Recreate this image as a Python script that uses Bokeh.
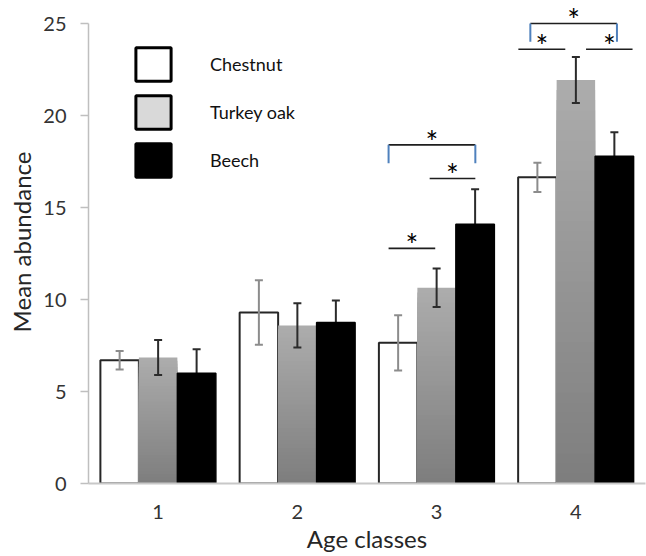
from bokeh.plotting import figure
from bokeh.models import (FactorRange, Range1d, ColumnDataSource, Legend, LegendItem,
                          FixedTicker)
from bokeh.transform import dodge
from bokeh.core.properties import value
from bokeh.embed import file_html
from bokeh.resources import INLINE

# ---------------- data ----------------
age_classes = ["1", "2", "3", "4"]
series_names = ["Chestnut", "Turkey oak", "Beech"]

chestnut_mean = [6.7, 9.3, 7.65, 16.65]
chestnut_err = [0.5, 1.75, 1.5, 0.8]
turkey_mean = [6.85, 8.6, 10.65, 21.95]
turkey_err = [0.95, 1.2, 1.05, 1.25]
beech_mean = [6.0, 8.75, 14.1, 17.8]
beech_err = [1.3, 1.2, 1.9, 1.3]

y_ticks = [0, 5, 10, 15, 20, 25]

# significance brackets: age class and label
sig_age = ["3", "3", "3", "4", "4", "4"]
sig_label = ["*", "*", "*", "*", "*", "*"]

# ---------------- layout / style ----------------
FONT = "Lato"
W_BAR = 0.2764
OFFS = [-W_BAR, 0.0, W_BAR]
sig_x0 = [-0.345, -0.05, -0.345, -0.327, -0.413, 0.073]
sig_x1 = [0.278, 0.278, -0.01, 0.295, -0.076, 0.407]
sig_level = [18.42, 16.59, 12.79, 25.02, 23.62, 23.62]
sig_ticks = [True, False, False, True, False, False]
TICK_LEN = 1.0

WIDTH, HEIGHT = 646, 556
FRAME_H = 483
p = figure(width=WIDTH, height=HEIGHT,
           x_range=FactorRange(factors=age_classes, range_padding=0, factor_padding=0),
           y_range=Range1d(0, 26.27),
           output_backend="svg", toolbar_location=None,
           min_border_left=88, min_border_right=1, min_border_top=0,
           min_border_bottom=HEIGHT - FRAME_H)
p.outline_line_color = None
p.xgrid.visible = False
p.ygrid.visible = False
p.background_fill_color = "white"
p.border_fill_color = "white"

def src(mean, err):
    return ColumnDataSource(dict(
        age=age_classes, mean=mean,
        lo=[m - e for m, e in zip(mean, err)],
        hi=[m + e for m, e in zip(mean, err)]))

s_ch = src(chestnut_mean, chestnut_err)
s_tk = src(turkey_mean, turkey_err)
s_be = src(beech_mean, beech_err)

def error_bars(s, off, col):
    xx = dodge("age", off, range=p.x_range)
    p.segment(x0=xx, y0="lo", x1=xx, y1="hi", source=s, line_color=col, line_width=2)
    p.scatter(x=xx, y="hi", marker="dash", size=8, line_width=2, line_color=col, source=s)
    p.scatter(x=xx, y="lo", marker="dash", size=8, line_width=2, line_color=col, source=s)

# Chestnut bars
p.vbar(x=dodge("age", OFFS[0], range=p.x_range), top="mean", width=W_BAR, source=s_ch,
       fill_color="white", line_color="#262626", line_width=2)

# Turkey oak bars with a vertical gradient (stacked shrinking slices of each bar)
N = 40
def lerp(c0, c1, t):
    return "#%02x%02x%02x" % tuple(int(round(a + (b - a) * t)) for a, b in zip(c0, c1))
top_c = (0xac, 0xac, 0xac)
bot_c = (0x7e, 0x7e, 0x7e)
g_age, g_top, g_col = [], [], []
for k in range(N):
    frac = 1 - k / N
    col = lerp(top_c, bot_c, k / (N - 1))
    for a, v in zip(age_classes, turkey_mean):
        g_age.append(a)
        g_top.append(v * frac)
        g_col.append(col)
p.vbar(x=dodge("age", OFFS[1], range=p.x_range), top="top", width=W_BAR,
       source=ColumnDataSource(dict(age=g_age, top=g_top, col=g_col)),
       fill_color="col", line_color=None)

error_bars(s_ch, OFFS[0], "#8c8c8c")
error_bars(s_tk, OFFS[1], "#2b2b2b")
error_bars(s_be, OFFS[2], "#2b2b2b")

# Beech bars (drawn over their own error bars, hiding the lower half)
p.vbar(x=dodge("age", OFFS[2], range=p.x_range), top="mean", width=W_BAR, source=s_be,
       fill_color="black", line_color="black", line_width=1.5)

# significance brackets
bx0 = [age_classes.index(a) + 0.5 + o for a, o in zip(sig_age, sig_x0)]
bx1 = [age_classes.index(a) + 0.5 + o for a, o in zip(sig_age, sig_x1)]
p.segment(x0=bx0, y0=sig_level, x1=bx1, y1=sig_level, line_color="#1e1e1e", line_width=1.6)
tx, ty0, ty1 = [], [], []
for x0, x1, lv, t in zip(bx0, bx1, sig_level, sig_ticks):
    if t:
        for xv in (x0, x1):
            tx.append(xv)
            ty0.append(lv)
            ty1.append(lv - TICK_LEN)
p.segment(x0=tx, y0=ty0, x1=tx, y1=ty1, line_color="#4f81bd", line_width=2)
p.text(x=[(a + b) / 2 for a, b in zip(bx0, bx1)], y=sig_level, text=sig_label,
       text_align="center", text_baseline="middle", y_offset=-4,
       text_font=value(FONT), text_font_size="30px", text_color="black")

# legend proxies
leg_items = []
for name, fill in zip(series_names, ["white", "#d9d9d9", "black"]):
    r = p.vbar(x=["1"], top=[1], width=0.1, fill_color=fill, line_color="black", line_width=3,
               visible=False)
    leg_items.append(LegendItem(label=name, renderers=[r]))
legend = Legend(items=leg_items, location=(43, FRAME_H - 181), orientation="vertical",
                glyph_width=44, glyph_height=42, spacing=6, label_standoff=35,
                padding=0, margin=0, border_line_color=None, background_fill_alpha=0,
                inactive_fill_alpha=0,
                label_text_font=FONT, label_text_font_size="18px", label_text_color="#111111")
p.add_layout(legend)

# axes
p.yaxis.ticker = FixedTicker(ticks=y_ticks)
p.yaxis.bounds = (0, 25)
p.yaxis.minor_tick_line_color = None
p.yaxis.major_tick_in = 0
p.yaxis.major_tick_out = 8
p.yaxis.major_tick_line_color = "#bfbfbf"
p.yaxis.axis_line_color = "#bfbfbf"
p.yaxis.axis_line_width = 1.5
p.yaxis.major_tick_line_width = 1.5
p.yaxis.major_label_standoff = 14
p.yaxis.axis_label = "Mean abundance"
p.yaxis.axis_label_standoff = 4

p.xaxis.major_tick_line_color = None
p.xaxis.major_tick_out = 0
p.xaxis.major_tick_in = 0
p.xaxis.axis_line_color = "#c8c8c8"
p.xaxis.axis_line_width = 2
p.xaxis.major_label_standoff = 21
p.xaxis.axis_label = "Age classes"
p.xaxis.axis_label_standoff = 2

for ax in (p.xaxis, p.yaxis):
    ax.major_label_text_font = FONT
    ax.major_label_text_font_size = "20px"
    ax.major_label_text_color = "#333333"
    ax.axis_label_text_font = FONT
    ax.axis_label_text_font_size = "24px"
    ax.axis_label_text_font_style = "normal"
    ax.axis_label_text_color = "#262626"

open("out.html", "w").write(file_html(p, INLINE))
